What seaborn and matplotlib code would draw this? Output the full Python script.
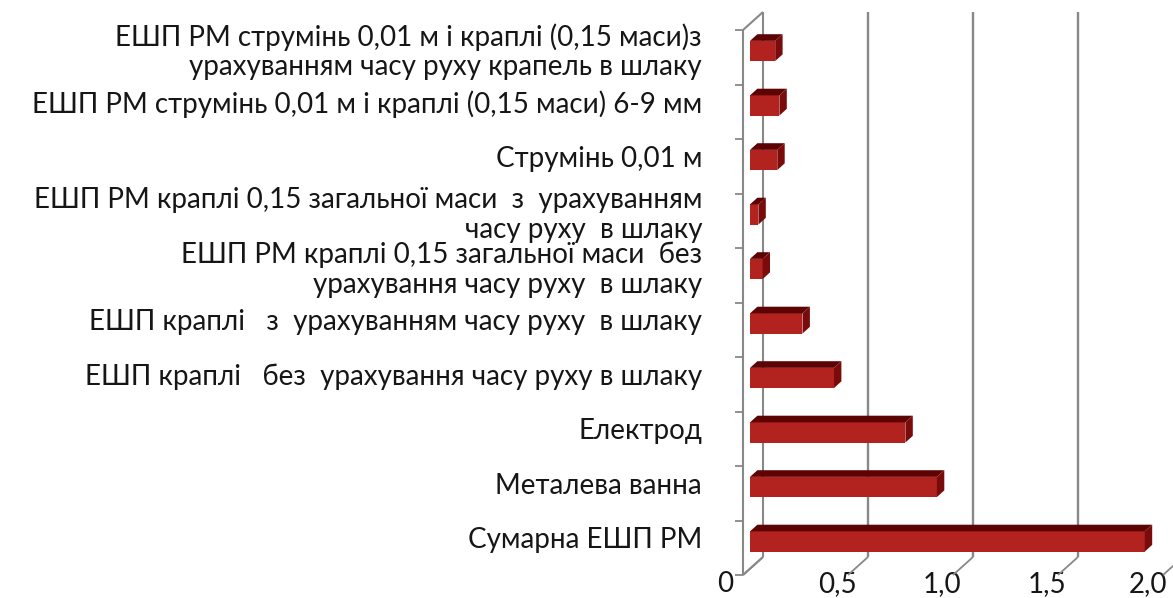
import matplotlib
matplotlib.use("Agg")
import matplotlib.pyplot as plt
from matplotlib import transforms
from matplotlib.patches import Polygon
from matplotlib.lines import Line2D
import seaborn as sns

# ---- data -------------------------------------------------------------
categories = [
    "ЕШП РМ струмінь 0,01 м і краплі (0,15 маси)з\nурахуванням часу руху крапель в шлаку",
    "ЕШП РМ струмінь 0,01 м і краплі (0,15 маси) 6-9 мм",
    "Струмінь 0,01 м",
    "ЕШП РМ краплі 0,15 загальної маси  з  урахуванням\nчасу руху  в шлаку",
    "ЕШП РМ краплі 0,15 загальної маси  без\nурахування часу руху  в шлаку",
    "ЕШП краплі   з  урахуванням часу руху  в шлаку",
    "ЕШП краплі   без  урахування часу руху в шлаку",
    "Електрод",
    "Металева ванна",
    "Сумарна ЕШП РМ",
]
values = [0.12, 0.14, 0.13, 0.04, 0.06, 0.25, 0.40, 0.74, 0.89, 1.88]
x_ticks = [0, 0.5, 1.0, 1.5, 2.0]
x_tick_labels = ["0", "0,5", "1,0", "1,5", "2,0"]

# ---- style ------------------------------------------------------------
sns.set_theme(style="white")
plt.rcParams["font.family"] = ["Lato", "DejaVu Sans"]
FONT_SIZE = 20
TEXT = "#161616"
GRID = "#888888"
FRONT = "#b2221f"
TOP = "#5e0303"
SIDE = "#7a0b0b"

W, H, DPI = 1173, 598, 100
fig = plt.figure(figsize=(W / DPI, H / DPI), dpi=DPI)
fig.patch.set_facecolor("white")
ax = fig.add_axes([743 / W, 23 / H, 420 / W, 545 / H])

sns.barplot(x=values, y=categories, orient="h", color=FRONT, saturation=1,
            width=0.37, ax=ax, zorder=4, linewidth=0)
ax.set_xlim(0, 2.0)
ax.set_ylim(len(categories) - 0.5, -0.5)
for s in ax.spines.values():
    s.set_visible(False)
ax.grid(False)
ax.set_xlabel("")
ax.set_ylabel("")

# depth of the 3-D box (pixels), and where the bars sit inside it
DEPTH = (20.0, 18.0)
BAR_FRONT = 0.35
BAR_BACK = 0.72


def px(x, y, d=0.0):
    """Display coordinates of a data point pushed d (0..1) into the depth."""
    X, Y = ax.transData.transform((x, y))
    return (X + d * DEPTH[0], Y + d * DEPTH[1])


ident = transforms.IdentityTransform()


def seg(p, q, lw=1.5, color=GRID, z=1):
    ax.add_artist(Line2D([p[0], q[0]], [p[1], q[1]], transform=ident,
                         color=color, lw=lw, zorder=z, clip_on=False,
                         solid_capstyle="butt"))


y_top, y_bot = -0.5, len(categories) - 0.5

# left wall
seg(px(0, y_top), px(0, y_bot))
seg(px(0, y_top, 1), px(0, y_bot, 1))
seg(px(0, y_top), px(0, y_top, 1))
seg(px(0, y_bot), px(0, y_bot, 1))
# back-wall gridlines and floor lines
for v in x_ticks:
    if v > 0:
        seg(px(v, y_top, 1), px(v, y_bot, 1), lw=1.7)
    seg(px(v, y_bot), px(v, y_bot, 1), lw=1.3)
# category boundary ticks on the left wall
for i in range(len(categories) + 1):
    b = i - 0.5
    X, Y = px(0, b)
    seg((X - 8, Y), (X, Y), lw=1.3)

# bars: push seaborn's rectangles to the front-face depth, add top and side faces
shift_front = transforms.ScaledTranslation(BAR_FRONT * DEPTH[0] / DPI,
                                           BAR_FRONT * DEPTH[1] / DPI,
                                           fig.dpi_scale_trans)
dd = BAR_BACK - BAR_FRONT
for patch in list(ax.patches):
    x0, y0 = patch.get_x(), patch.get_y()
    w, h = patch.get_width(), patch.get_height()
    x1, y1 = x0 + w, y0 + h
    # y-axis inverted: y0 is the visual top
    tl = px(x0, y0, BAR_FRONT)
    tr = px(x1, y0, BAR_FRONT)
    br = px(x1, y1, BAR_FRONT)
    off = (dd * DEPTH[0], dd * DEPTH[1])
    tl2 = (tl[0] + off[0], tl[1] + off[1])
    tr2 = (tr[0] + off[0], tr[1] + off[1])
    br2 = (br[0] + off[0], br[1] + off[1])
    ax.add_patch(Polygon([tl, tr, tr2, tl2], closed=True, transform=ident,
                         facecolor=TOP, edgecolor="none", zorder=5, clip_on=False))
    ax.add_patch(Polygon([tr, br, br2, tr2], closed=True, transform=ident,
                         facecolor=SIDE, edgecolor="none", zorder=5, clip_on=False))
    patch.set_transform(ax.transData + shift_front)
    patch.set_clip_on(False)

# y labels
ax.tick_params(axis="y", length=0, pad=29.5, labelsize=FONT_SIZE, labelcolor=TEXT)
ylab_shift = transforms.ScaledTranslation(0, 10 / DPI, fig.dpi_scale_trans)
for lab in ax.get_yticklabels():
    lab.set_transform(lab.get_transform() + ylab_shift)
    lab.set_linespacing(1.18)

# x labels
ax.set_xticks(x_ticks)
ax.set_xticklabels(x_tick_labels)
ax.tick_params(axis="x", length=0, pad=-3, labelsize=FONT_SIZE, labelcolor=TEXT)
xlab_shift = transforms.ScaledTranslation(-11 / DPI, 0, fig.dpi_scale_trans)
n_x = len(x_tick_labels)
for i, lab in enumerate(ax.get_xticklabels()):
    extra = -7 if i == 0 else (-4 if i == n_x - 1 else 0)
    lab.set_transform(lab.get_transform() + xlab_shift
                      + transforms.ScaledTranslation(extra / DPI, 0, fig.dpi_scale_trans))

fig.savefig("out.png", dpi=DPI, facecolor="white")
